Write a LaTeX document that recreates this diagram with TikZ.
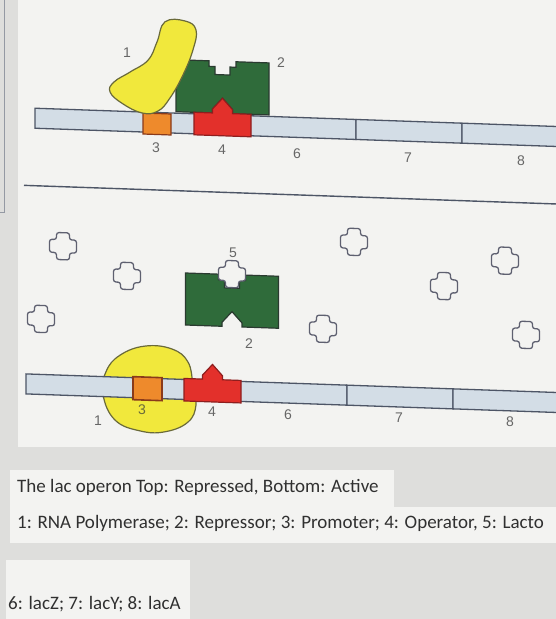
\documentclass[tikz,border=0pt]{standalone}
\usepackage{fontspec}
\setmainfont{Carlito}
\setsansfont{Liberation Sans}
\definecolor{backgray}{HTML}{DEDEDC}
\definecolor{panelwhite}{HTML}{F3F3F1}
\definecolor{dnafill}{HTML}{D3DDE6}
\definecolor{dnaline}{HTML}{4D5566}
\definecolor{promofill}{HTML}{EE8A2C}
\definecolor{promoline}{HTML}{8A3A1A}
\definecolor{operfill}{HTML}{E3302B}
\definecolor{operline}{HTML}{8E1E1E}
\definecolor{reprfill}{HTML}{2F6B3A}
\definecolor{reprline}{HTML}{2A3A30}
\definecolor{polyfill}{HTML}{F1E83C}
\definecolor{polyline}{HTML}{6A6A3A}
\definecolor{lacline}{HTML}{5E6070}
\definecolor{lblgray}{HTML}{666666}
\definecolor{captext}{HTML}{303030}
\def\lactose[#1](#2){\draw[#1, shift={(#2)}, rounded corners=2.5pt] (-6.5, -13.5) -- (6.5, -13.5) -- (6.5, -6.5) -- (13.5, -6.5) -- (13.5, 6.5) -- (6.5, 6.5) -- (6.5, 13.5) -- (-6.5, 13.5) -- (-6.5, 6.5) -- (-13.5, 6.5) -- (-13.5, -6.5) -- (-6.5, -6.5) -- cycle;}
\def\repressor(#1){\draw[repr, shift={(#1)}] (-46.5, 0) -- (-13.5, 0) -- (-13.5, 5.5) -- (-7.5, 5.5) -- (-7.5, 13.5) -- (7.5, 13.5) -- (7.5, 5.5) -- (13.5, 5.5) -- (13.5, 0) -- (46.5, 0) -- (46.5, 52) -- (10, 52) -- (10, 48) -- (0, 37) -- (-10, 48) -- (-10, 52) -- (-46.5, 52) -- cycle;}
\def\operator(#1){\draw[oper, shift={(#1)}] (-28.5, 0) -- (-10, 0) -- (-10, -4) -- (0, -15) -- (10, -4) -- (10, 0) -- (28.5, 0) -- (28.5, 22.5) -- (-28.5, 22.5) -- cycle;}

\begin{document}
\begin{tikzpicture}[x=1pt, y=-1pt,
	dna/.style={draw=dnaline, fill=dnafill, line width=1.3pt},
	promo/.style={draw=promoline, fill=promofill, line width=1.2pt},
	oper/.style={draw=operline, fill=operfill, line width=1.2pt},
	repr/.style={draw=reprline, fill=reprfill, line width=1.2pt},
	poly/.style={draw=polyline, fill=polyfill, line width=1.2pt},
	lac/.style={draw=lacline, fill=panelwhite, line width=1.3pt},
	lbl/.style={font=\sffamily\fontsize{14}{14}\selectfont, text=lblgray, inner sep=0pt},
	caption/.style={font=\fontsize{19}{19}\selectfont, text=captext, anchor=base west, inner sep=0pt}]
			%%%%% START %%%%%
			
			\useasboundingbox (0, 0) rectangle (556, 619);
			\clip (0, 0) rectangle (556, 619);
			\fill[backgray] (0, 0) rectangle (556, 619);
			\fill[panelwhite] (18, 0) rectangle (556, 447);
			\draw[line width=1pt, color=dnaline!60] (4, 0) -- (4, 212) -- (0, 212);
			
			% screen is photographed at a slight angle
			\begin{scope}[cm={1,-0.035,0,1,(0,0)}]
			
			% repressed: repressor sits on the operator
			\draw[dna] (35, 107) rectangle (356, 127);
			\draw[dna] (356, 107) rectangle (462, 127);
			\draw[dna] (462, 107) rectangle (580, 127);
			
			\repressor(222.5, 53.5)
			\operator(222.5, 105.5)
			\draw[promo] (143, 108) rectangle (171, 129);
			\draw[poly] plot[smooth cycle, tension=0.7] coordinates {(165, 16) (185, 14.5) (196, 23) (193, 43) (183, 68.5) (170, 92) (158, 105.5) (142, 108) (122, 99) (110, 88) (114, 78) (130, 67.5) (148, 55) (157, 36.5)};
			
			\node[lbl] (pol1) at (127, 48) {1};
			\node[lbl] (rep1) at (281, 53) {2};
			\node[lbl] (pro1) at (156, 142) {3};
			\node[lbl] (ope1) at (222, 142) {4};
			\node[lbl] (lz1) at (297, 143) {6};
			\node[lbl] (ly1) at (408, 143) {7};
			\node[lbl] (la1) at (521, 142) {8};
			
			\draw[line width=1.4pt, color=dnaline] (24, 184.5) -- (580, 184.5);
			
			% active: lactose holds the repressor off the DNA
			\lactose[lac](63, 244)
			\lactose[lac](127, 271.5)
			\lactose[lac](41, 317.5)
			\lactose[lac](354, 229.5)
			\lactose[lac](505, 243)
			\lactose[lac](444, 270.5)
			\lactose[lac](323, 317.5)
			\lactose[lac](526, 316.5)
			
			\repressor(232, 266.5)
			\lactose[lac](232, 266)
			
			\draw[poly] plot[smooth cycle, tension=0.7] coordinates {(103, 391) (106, 368) (120, 351) (145, 341) (172, 343) (188, 355.5) (193, 378) (196, 398) (188, 415.5) (165, 426) (140, 426) (115, 416)};
			\draw[dna] (26, 373) rectangle (347, 393);
			\draw[dna] (347, 373) rectangle (453, 393);
			\draw[dna] (453, 373) rectangle (580, 393);
			\operator(212.5, 372)
			\draw[promo, line width=1.6pt] (133, 372) rectangle (162, 395);
			
			\node[lbl] (lac2) at (233, 245) {5};
			\node[lbl] (rep2) at (249, 335) {2};
			\node[lbl] (pol2) at (98, 417.5) {1};
			\node[lbl, text=polyline] (pro2) at (142, 405) {3};
			\node[lbl] (ope2) at (212, 404.5) {4};
			\node[lbl] (lz2) at (288, 405) {6};
			\node[lbl] (ly2) at (399, 404) {7};
			\node[lbl] (la2) at (510, 404) {8};
			
			\end{scope}
			
			% captions
			\fill[panelwhite] (10, 470) rectangle (394, 507);
			\fill[panelwhite] (10, 507) rectangle (556, 543);
			\fill[panelwhite] (6, 560) rectangle (190, 619);
			\node[caption] (cap1) at (17, 492) {The lac operon Top: Repressed, Bottom: Active};
			\node[caption] (cap2) at (17, 528) {1: RNA Polymerase; 2: Repressor; 3: Promoter; 4: Operator, 5: Lacto};
			\node[caption] (cap3) at (8, 609) {6: lacZ; 7: lacY; 8: lacA};
			
			%%%%% END %%%%%
\end{tikzpicture}
\end{document}
